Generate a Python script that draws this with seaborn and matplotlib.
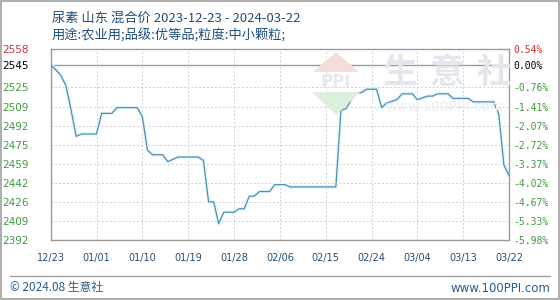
import matplotlib
matplotlib.use("Agg")
import matplotlib.pyplot as plt
from matplotlib.patches import Rectangle, Polygon
import seaborn as sns
import pandas as pd

# ---- data ----
day_offsets = [0, 1, 2, 3, 4, 5, 6, 9, 10, 12, 13, 17, 18, 19, 20, 22, 23, 25, 29, 30,
               31, 32, 33, 34, 36, 37, 38, 39, 40, 41, 43, 44, 46, 47, 56, 57, 58, 59,
               60, 61, 62, 64, 65, 66, 68, 69, 71, 72, 74, 75, 76, 78, 79, 82, 83, 87,
               88, 89, 90]
prices = [2545, 2541, 2536, 2527, 2506, 2483, 2485, 2485, 2503, 2503, 2508, 2508, 2500,
          2471, 2467, 2467, 2461, 2465, 2465, 2462, 2426, 2426, 2407, 2417, 2417, 2420,
          2420, 2431, 2431, 2435, 2435, 2441, 2441, 2439, 2439, 2506, 2507, 2515, 2521,
          2521, 2524, 2524, 2508, 2512, 2515, 2520, 2520, 2515, 2518, 2518, 2520, 2520,
          2516, 2516, 2513, 2513, 2502, 2458, 2449]
start_date = "2023-12-23"
end_date = "2024-03-22"
x_tick_labels = ["12/23", "01/01", "01/10", "01/19", "01/28", "02/06", "02/15",
                 "02/24", "03/04", "03/13", "03/22"]
left_labels = ["2392", "2409", "2426", "2442", "2459", "2475", "2492", "2509",
               "2525", "2545", "2558"]
right_labels = ["-5.98%", "-5.33%", "-4.67%", "-4.02%", "-3.37%", "-2.72%", "-2.07%",
                "-1.41%", "-0.76%", "0.00%", "0.54%"]
base_price = 2545
title_line1 = "尿素 山东 混合价 2023-12-23 - 2024-03-22"
title_line2 = "用途:农业用;品级:优等品;粒度:中小颗粒;"

dates = pd.to_datetime(start_date) + pd.to_timedelta(day_offsets, unit="D")
df = pd.DataFrame({"date": dates, "price": prices})

sns.set_theme(style="white")
plt.rcParams["font.family"] = ["Noto Sans CJK SC", "DejaVu Sans"]

W, H = 560, 300
def fx(px):
    return px / W
def fy(py):
    return 1 - py / H

fig = plt.figure(figsize=(5.6, 3.0), dpi=100)
fig.patch.set_facecolor("white")
ax = fig.add_axes([fx(50.7), fy(240), (509 - 50.7) / W, (240 - 49.3) / H])
ax.set_facecolor("none")

ymin = base_price * (1 - 0.0598)
ymax = base_price * (1 + 0.0054)
step = (ymax - ymin) / 10
yticks = [ymin + k * step for k in range(9)] + [base_price, ymax]

# watermark (behind axes)
for ch, cx in zip("生意社", [400, 447, 494]):
    fig.text(fx(cx), fy(72), ch, fontsize=25, color="#e3e6ec", ha="center", va="center",
             fontweight="bold", zorder=0)
fig.text(fx(445), fy(107), "www.100PPI.com", fontsize=10, color="#eceef2", ha="center",
         va="center", zorder=0, family="DejaVu Sans")
fig.patches.append(Polygon([[fx(336), fy(52)], [fx(359), fy(72)], [fx(313), fy(72)]], closed=True,
                           transform=fig.transFigure, facecolor="#f7dcdc", edgecolor="none", zorder=0))
fig.patches.append(Polygon([[fx(336), fy(115)], [fx(360), fy(92)], [fx(312), fy(92)]], closed=True,
                           transform=fig.transFigure, facecolor="#dcefdc", edgecolor="none", zorder=0))
fig.text(fx(336), fy(82), "PPI", fontsize=12, color="#e6e9ee", ha="center", va="center",
         fontweight="bold", zorder=0, family="DejaVu Sans")

# grid
for yv in yticks[1:9]:
    ax.axhline(yv, color="#d0d0d0", lw=0.7, ls=(0, (2, 2)), zorder=1)
ax.axhline(base_price, color="#9a9a9a", lw=1.0, zorder=1)
xt = pd.date_range(start_date, end_date, freq="9D")
for xv in xt[1:-1]:
    ax.axvline(xv, color="#d0d0d0", lw=0.7, ls=(0, (2, 2)), zorder=1)

# glow + line
ax.plot(df["date"], df["price"], color="#e3f6fb", lw=2.6, zorder=2)
sns.lineplot(data=df, x="date", y="price", ax=ax, color="#4f8fb3", lw=0.9, zorder=3)

ax.set_xlim(pd.to_datetime(start_date), pd.to_datetime(end_date))
ax.set_ylim(ymin, ymax)
ax.set_xlabel("")
ax.set_ylabel("")
ax.set_xticks(xt)
ax.set_xticklabels(x_tick_labels, fontsize=7, color="#1f4e79", family="DejaVu Sans")
ax.set_yticks(yticks)
ax.set_yticklabels(left_labels, fontsize=7.5, family="DejaVu Sans")
lab_colors = ["#3f9a3f"] * 9 + ["#000000", "#cc3333"]
for t, c in zip(ax.get_yticklabels(), lab_colors):
    t.set_color(c)
ax.tick_params(axis="y", length=0, pad=16)
ax.tick_params(axis="x", length=0, pad=9)
for s in ax.spines.values():
    s.set_color("#9a9a9a")
    s.set_linewidth(1.0)

ax2 = ax.twinx()
ax2.set_ylim(ymin, ymax)
ax2.set_yticks(yticks)
ax2.set_yticklabels(right_labels, fontsize=7, family="DejaVu Sans Mono")
for t, c in zip(ax2.get_yticklabels(), lab_colors):
    t.set_color(c)
ax2.tick_params(axis="y", length=0, pad=3)
ax2.grid(False)
for s in ax2.spines.values():
    s.set_visible(False)

# titles
fig.text(fx(52), fy(18), title_line1, fontsize=9.5, color="#1f4e79", va="center")
fig.text(fx(52), fy(36), title_line2, fontsize=9.5, color="#1f4e79", va="center")

# footer
fig.add_artist(plt.Line2D([fx(10), fx(550)], [fy(276), fy(276)],
                          transform=fig.transFigure, color="#a0a0a0", lw=1))
fig.text(fx(10), fy(288), "© 2024.08 生意社", fontsize=8.5, color="#2b5d8c", va="center")
fig.text(fx(550), fy(288), "www.100PPI.com", fontsize=8.5, color="#2b5d8c",
         va="center", ha="right", family="DejaVu Sans")

# outer border
fig.patches.append(Rectangle((0.001, 0.002), 0.997, 0.995, transform=fig.transFigure,
                             fill=False, edgecolor="#a0a0a0", lw=1.2))

fig.savefig("out.png", dpi=100, facecolor="white")
